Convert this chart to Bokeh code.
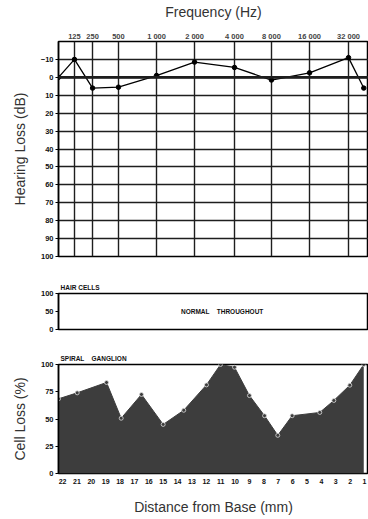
from bokeh.plotting import figure
from bokeh.layouts import column
from bokeh.models import Range1d, FixedTicker, Span, ColumnDataSource
from bokeh.embed import file_html
from bokeh.resources import INLINE
from bokeh.core.properties import value

# ---------------- data ----------------
freq_labels = ["125", "250", "500", "1 000", "2 000", "4 000", "8 000", "16 000", "32 000"]
freq_place_mm = [21.17, 19.91, 18.11, 15.46, 12.82, 10.04, 7.47, 4.82, 2.11]

hl_place_mm = [22.28, 21.17, 19.91, 18.11, 15.46, 12.82, 10.04, 7.47, 4.82, 2.11, 1.05]
hl_db = [0, -10, 6, 5.5, -1, -8.5, -5.5, 1.5, -2.5, -11, 6]
hl_ticks = [-10, 0, 10, 20, 30, 40, 50, 60, 70, 80, 90, 100]

hc_ticks = [0, 50, 100]

sg_place_mm = [22.28, 20.98, 18.94, 17.92, 16.51, 15.0, 13.57, 11.99, 11.01, 10.04,
               9.0, 7.95, 7.03, 6.03, 4.11, 3.13, 2.02, 1.05]
sg_loss = [68.5, 74, 83.5, 50.7, 72.5, 45, 58, 81.3, 100, 97.5,
           71.5, 53, 35, 53, 56, 67, 81, 100]
sg_ticks = [0, 25, 50, 75, 100]
dist_ticks = list(range(22, 0, -1))

X0, X1 = 22.28, 0.72
TITLE_FONT = "Liberation Sans"
TICK_FONT = "Liberation Sans"
W = 368
LEFT = 58
NB = "\u00a0"


def style_left_axis(p, ticks, label, size="7.5px"):
    ax = p.yaxis[0]
    ax.ticker = FixedTicker(ticks=ticks)
    ax.major_tick_out = 3
    ax.major_tick_in = 0
    ax.minor_tick_out = 0
    ax.minor_tick_in = 0
    ax.axis_line_color = "black"
    ax.axis_line_width = 1.5
    ax.major_label_text_font = TICK_FONT
    ax.major_label_text_font_style = "bold"
    ax.major_label_text_font_size = size
    ax.major_label_text_color = "#111111"
    ax.major_label_standoff = 2
    ax.axis_label = label
    if label:
        ax.axis_label_text_font = TITLE_FONT
        ax.axis_label_text_font_style = "normal"
        ax.axis_label_text_font_size = "14px"
        ax.axis_label_text_color = "#333333"
        ax.axis_label_standoff = 10


def style_title(p, text):
    p.title.text = text
    p.title.align = "left"
    p.title.offset = 2
    p.title.standoff = 6
    p.title.text_font = TICK_FONT
    p.title.text_font_style = "bold"
    p.title.text_font_size = "6.5px"
    p.title.text_color = "#111111"


# ---------------- audiogram ----------------
p1 = figure(width=W, height=262, x_range=Range1d(X0, X1), y_range=Range1d(100, -20),
            x_axis_location="above", output_backend="svg", toolbar_location=None)
p1.min_border_left = LEFT
p1.min_border_right = 0
p1.min_border_top = 39
p1.min_border_bottom = 6
p1.outline_line_color = "black"
p1.outline_line_width = 1.5

xa = p1.xaxis[0]
xa.ticker = FixedTicker(ticks=freq_place_mm)
xa.major_label_overrides = {t: l for t, l in zip(freq_place_mm, freq_labels)}
xa.major_tick_out = 0
xa.major_tick_in = 0
xa.minor_tick_out = 0
xa.minor_tick_in = 0
xa.axis_line_color = None
xa.major_label_text_font = TICK_FONT
xa.major_label_text_font_style = "bold"
xa.major_label_text_font_size = "7.5px"
xa.major_label_standoff = 1
xa.axis_label = "Frequency (Hz)"
xa.axis_label_text_font = TITLE_FONT
xa.axis_label_text_font_style = "normal"
xa.axis_label_text_font_size = "14px"
xa.axis_label_text_color = "#333333"
xa.axis_label_standoff = 9

style_left_axis(p1, hl_ticks, "Hearing Loss (dB)")

p1.xgrid.ticker = FixedTicker(ticks=freq_place_mm)
p1.ygrid.ticker = FixedTicker(ticks=hl_ticks)
for g in (p1.xgrid[0], p1.ygrid[0]):
    g.grid_line_color = "#1e1e1e"
    g.grid_line_width = 1.4
    g.grid_line_alpha = 1.0
p1.add_layout(Span(location=0, dimension="width", line_color="#1e1e1e", line_width=2.6))

src1 = ColumnDataSource(dict(x=hl_place_mm, y=hl_db))
p1.line("x", "y", source=src1, line_color="black", line_width=1.3)
p1.scatter("x", "y", source=src1, size=4.5, fill_color="black", line_color="black")

# ---------------- hair cells ----------------
p2 = figure(width=W, height=78, x_range=p1.x_range, y_range=Range1d(0, 100),
            x_axis_location=None, output_backend="svg", toolbar_location=None)
p2.min_border_left = LEFT
p2.min_border_right = 0
p2.min_border_top = 31
p2.min_border_bottom = 11
p2.outline_line_color = "black"
p2.outline_line_width = 1.5
p2.xgrid.visible = False
p2.ygrid.visible = False
style_left_axis(p2, hc_ticks, "")
style_title(p2, "HAIR" + NB + "CELLS")
p2.text(x=[10.9], y=[50], text=["NORMAL" + NB * 4 + "THROUGHOUT"], text_font=value(TICK_FONT),
        text_font_style="bold", text_font_size="6.5px", text_align="center",
        text_baseline="middle", text_color="#111111")

# ---------------- spiral ganglion ----------------
p3 = figure(width=W, height=179, x_range=p1.x_range, y_range=Range1d(0, 100),
            x_axis_location="below", output_backend="svg", toolbar_location=None)
p3.min_border_left = LEFT
p3.min_border_right = 0
p3.min_border_top = 24
p3.min_border_bottom = 46
p3.outline_line_color = "black"
p3.outline_line_width = 1.5
p3.xgrid.visible = False
p3.ygrid.visible = False
style_left_axis(p3, sg_ticks, "Cell Loss (%)")
style_title(p3, "SPIRAL" + NB * 4 + "GANGLION")

ba = p3.xaxis[0]
ba.ticker = FixedTicker(ticks=dist_ticks)
ba.major_tick_out = 0
ba.major_tick_in = 0
ba.minor_tick_out = 0
ba.minor_tick_in = 0
ba.axis_line_color = None
ba.major_label_text_font = TICK_FONT
ba.major_label_text_font_style = "bold"
ba.major_label_text_font_size = "7px"
ba.major_label_text_color = "#111111"
ba.major_label_standoff = 5
ba.axis_label = "Distance from Base (mm)"
ba.axis_label_text_font = TITLE_FONT
ba.axis_label_text_font_style = "normal"
ba.axis_label_text_font_size = "14px"
ba.axis_label_text_color = "#333333"
ba.axis_label_standoff = 12

src3 = ColumnDataSource(dict(x=sg_place_mm, y=sg_loss, z=[0] * len(sg_loss)))
p3.varea(x="x", y1="z", y2="y", source=src3, fill_color="#3d3d3d")
p3.line("x", "y", source=src3, line_color="#3d3d3d", line_width=1)
p3.scatter("x", "y", source=src3, size=4, fill_color="#3d3d3d", line_color="#dddddd",
           line_width=0.8)

layout = column(p1, p2, p3, spacing=0)
open("out.html", "w").write(file_html(layout, INLINE))
